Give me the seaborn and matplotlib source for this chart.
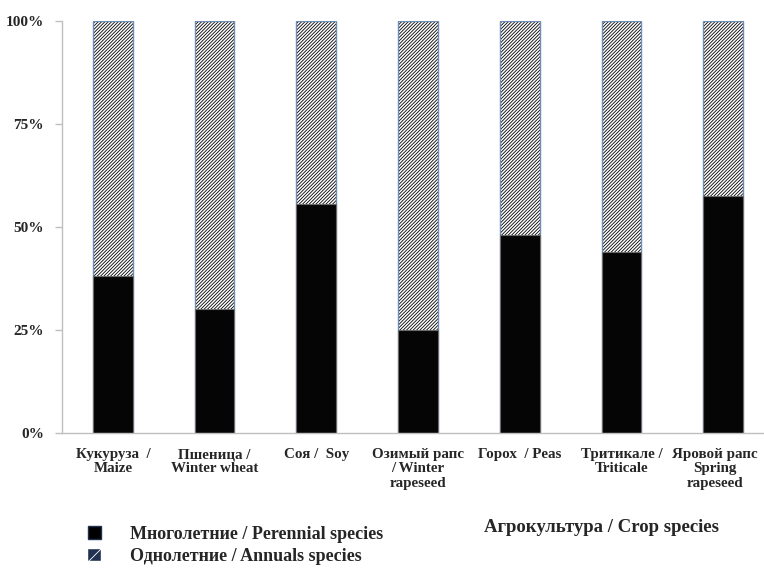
import matplotlib
matplotlib.use("Agg")
import matplotlib.pyplot as plt
import matplotlib.transforms as mtransforms
import seaborn as sns
import pandas as pd
from matplotlib.patches import Patch

# data (share of perennial weed species, %)
crops = ["Кукуруза  /\nMaize", "Пшеница /\nWinter wheat", "Соя /  Soy",
         "Озимый рапс\n/ Winter\nrapeseed", "Горох  / Peas",
         "Тритикале /\nTriticale", "Яровой рапс\nSpring\nrapeseed"]
perennial = [38, 30, 55.5, 25, 48, 44, 57.5]
annual = [100 - p for p in perennial]
y_ticks = [0, 25, 50, 75, 100]
y_labels = ["0%", "25%", "50%", "75%", "100%"]

df = pd.DataFrame({"crop": crops, "perennial": perennial,
                   "total": [p + a for p, a in zip(perennial, annual)]})

sns.set_style("white")
plt.rcParams["font.family"] = ["Liberation Serif", "DejaVu Serif"]
plt.rcParams["font.weight"] = "bold"
plt.rcParams["hatch.linewidth"] = 0.6

fig = plt.figure(figsize=(7.64, 5.71), dpi=100)
ax = fig.add_axes([62 / 764, 138 / 571, 712 / 764, 412 / 571])

bw = 0.39
# annuals: hatched top part (drawn as full-height bar underneath)
sns.barplot(data=df, x="crop", y="total", color="white", edgecolor="black",
            linewidth=0, hatch="//////////", width=bw, ax=ax)
sns.barplot(data=df, x="crop", y="total", fill=False, edgecolor="#6f8db5",
            linewidth=1.0, width=bw, ax=ax)
# perennials: solid black bottom part
sns.barplot(data=df, x="crop", y="perennial", color="#050505",
            edgecolor="#6a6a6a", linewidth=0.8, width=bw, saturation=1, ax=ax)

ax.set_xlim(-0.5, len(crops) - 0.5)
ax.set_ylim(0, 100)
ax.set_yticks(y_ticks)
ax.set_yticklabels(y_labels, fontsize=11, fontweight="bold")
ax.set_xticks(range(len(crops)))
ax.set_xticklabels(crops, fontsize=10.8, fontweight="bold", linespacing=1.12)
ax.set_xticks([i - 0.5 for i in range(len(crops) + 1)], minor=True)
ax.tick_params(axis="x", which="major", length=0, pad=11)
ax.tick_params(axis="x", which="minor", length=5, color="#bfbfbf", width=1)
ax.tick_params(axis="y", length=5, color="#bfbfbf", width=1, pad=8, left=True)
ax.set_xlabel("")
ax.set_ylabel("")

# last label sits a little left of its bar in the reference (fits the edge)
last = ax.get_xticklabels()[-1]
last.set_transform(last.get_transform() +
                   mtransforms.ScaledTranslation(-8 / 100, 0, fig.dpi_scale_trans))

for side in ["top", "right"]:
    ax.spines[side].set_visible(False)
for side in ["left", "bottom"]:
    ax.spines[side].set_color("#bfbfbf")
    ax.spines[side].set_linewidth(1)

handles = [Patch(facecolor="black", edgecolor="#1f3050"),
           Patch(facecolor="#1f3050", edgecolor="white", hatch="//", linewidth=0.3)]
fig.legend(handles, ["Многолетние / Perennial species", "Однолетние / Annuals species"],
           loc="upper left", bbox_to_anchor=(88 / 764, 1 - 526 / 571),
           frameon=False, handlelength=0.7, handleheight=0.7,
           handletextpad=1.65, labelspacing=0.3, borderpad=0, borderaxespad=0,
           prop={"size": 13, "weight": "bold"})

fig.text(601 / 764, 1 - 527 / 571, "Агрокультура / Crop species",
         ha="center", va="center", fontsize=13.5, fontweight="bold")

fig.savefig("out.png", dpi=100)
